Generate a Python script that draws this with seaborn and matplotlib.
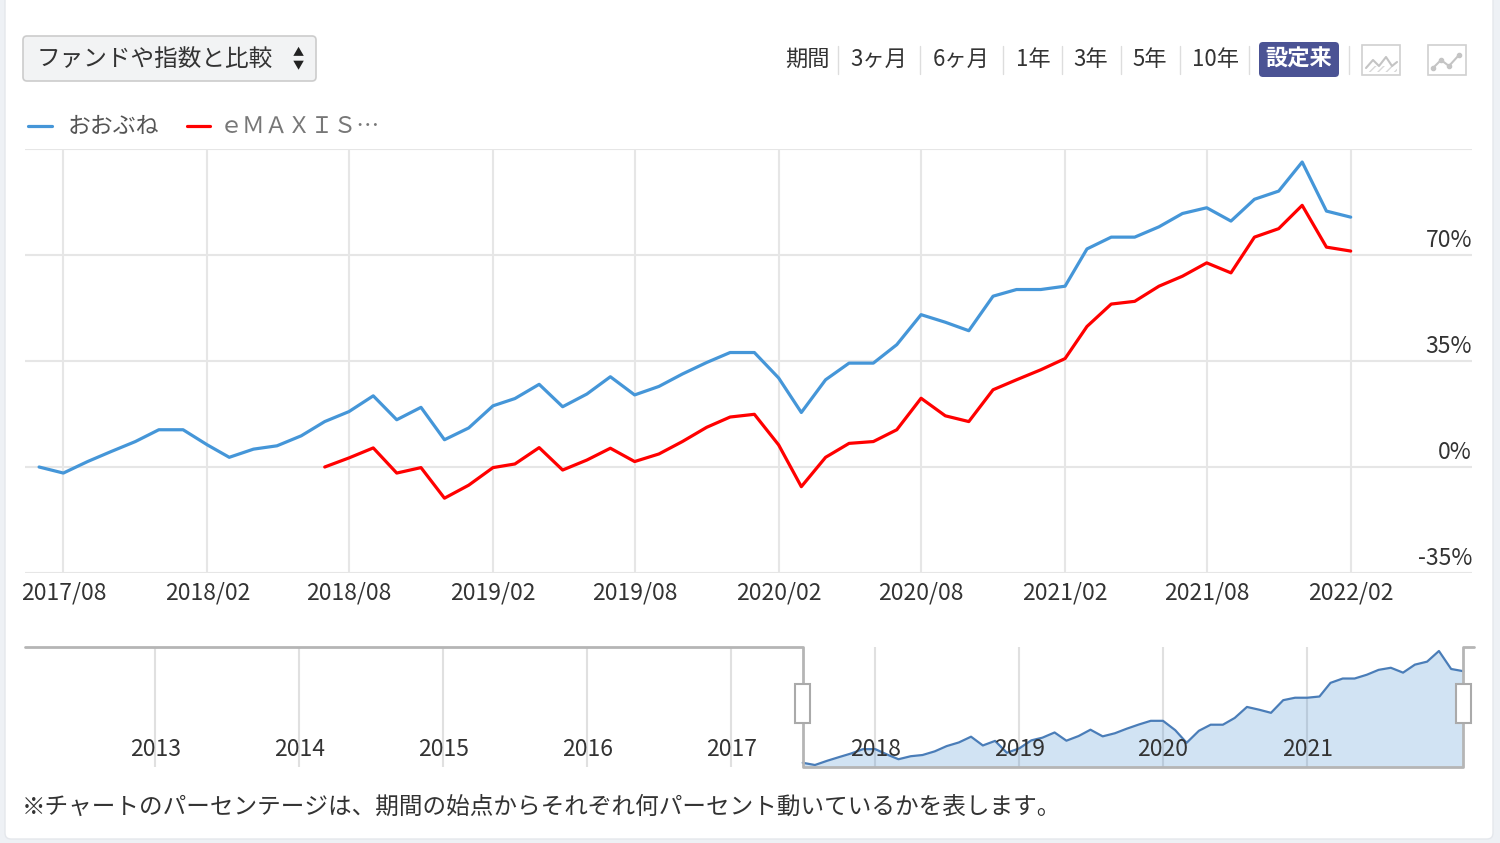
import numpy as np
import pandas as pd
import seaborn as sns
import matplotlib.pyplot as plt
import matplotlib.dates as mdates
from matplotlib import transforms
from matplotlib.patches import FancyBboxPatch, Rectangle
from matplotlib.lines import Line2D

# --- data ---
months_blue = pd.date_range('2017-07-01', '2022-02-01', freq='MS')
oobune = [0.0, -2.0, 1.8, 5.1, 8.4, 12.3,
          12.3, 7.3, 3.2, 5.9, 7.0, 10.3, 15.0, 18.3, 23.5, 15.6, 19.7, 9.0,
          12.9, 20.2, 22.6, 27.3, 19.9, 24.1, 29.8, 23.8, 26.6, 30.7, 34.5, 37.8,
          37.8, 29.4, 18.0, 28.8, 34.3, 34.3, 40.4, 50.3, 47.8, 45.0, 56.4, 58.6,
          58.6, 59.7, 72.0, 75.9, 75.9, 79.3, 83.7, 85.6, 81.2, 88.4, 91.1, 100.7,
          84.5, 82.5]

months_red = pd.date_range('2018-07-01', '2022-02-01', freq='MS')
emaxis = [0.0, 3.0, 6.3, -2.0, -0.2, -10.3,
          -6.0, -0.2, 1.0, 6.4, -1.0, 2.3, 6.2, 1.8, 4.3, 8.4, 13.1, 16.5,
          17.4, 7.3, -6.5, 3.2, 7.8, 8.4, 12.3, 22.7, 16.9, 15.0, 25.5, 28.8,
          32.1, 35.8, 46.4, 53.8, 54.7, 59.7, 63.0, 67.4, 64.1, 75.9, 78.7, 86.4,
          72.6, 71.3]

series_names = ['おおぶね', 'ｅＭＡＸＩＳ…']
series_colors = ['#4596d8', '#ff0000']

y_ticks = [-35, 0, 35, 70]
x_ticks = pd.date_range('2017-08-01', '2022-02-01', freq='6MS')
nav_years = [2013, 2014, 2015, 2016, 2017, 2018, 2019, 2020, 2021]

periods = ['期間', '3ヶ月', '6ヶ月', '1年', '3年', '5年', '10年', '設定来']
footnote = '※チャートのパーセンテージは、期間の始点からそれぞれ何パーセント動いているかを表します。'

sns.set_theme(style='white')
plt.rcParams['font.family'] = ['Noto Sans CJK JP', 'DejaVu Sans']

W, H = 1500, 843
fig = plt.figure(figsize=(15, 8.43), dpi=100, facecolor='#eef1f5')
inch = fig.dpi_scale_trans


def P(x, y):
    # pixel position (from top-left) -> inches
    return (x / 100, (H - y) / 100)


def box(x0, y0, x1, y1, **kw):
    p = FancyBboxPatch(P(x0, y1), (x1 - x0) / 100, (y1 - y0) / 100,
                       transform=inch, **kw)
    fig.add_artist(p)


# white card (behind everything)
box(5, -20, 1493, 839, boxstyle='round,pad=0,rounding_size=0.06',
    fc='white', ec='#e4e7ec', lw=1, zorder=-10)

# --- main chart ---
ax = fig.add_axes([25 / W, 1 - 573 / H, 1447 / W, 424 / H])
ax.patch.set_alpha(0)
df_main = pd.concat([
    pd.DataFrame({'date': months_blue, 'value': oobune, 'series': series_names[0]}),
    pd.DataFrame({'date': months_red, 'value': emaxis, 'series': series_names[1]}),
])
sns.lineplot(data=df_main, x='date', y='value', hue='series',
             palette=dict(zip(series_names, series_colors)),
             linewidth=2.3, legend=False, ax=ax)

ax.set_xlim(pd.Timestamp('2017-06-13'), pd.Timestamp('2022-07-06'))
ax.set_ylim(-35, 105)
ax.set_yticks(y_ticks + [105])
ax.set_yticklabels([])
ax.tick_params(axis='y', length=0)
ax.set_xticks(x_ticks)
ax.set_xticklabels([d.strftime('%Y/%m') for d in x_ticks], fontsize=16.5, color='#333333')
ax.tick_params(axis='x', length=6, width=1.5, color='#e0e0e0', pad=0)
ax.grid(True, color='#e6e6e6', lw=1.5)
for s in ax.spines.values():
    s.set_visible(False)
ax.set_xlabel('')
ax.set_ylabel('')

off = transforms.offset_copy(ax.get_yaxis_transform(), fig=fig, x=0, y=2.5, units='points')
for v in y_ticks:
    ax.text(1.0, v, f'{v}%', transform=off, ha='right', va='bottom',
            fontsize=16.5, color='#333333')

# --- navigator ---
ax2 = fig.add_axes([25 / W, 1 - 767 / H, 1449 / W, 120 / H])
ax2.patch.set_alpha(0)
ax2.fill_between(months_blue, oobune, -3.8, color='#4a90d0', alpha=0.25, lw=0)
sns.lineplot(x=months_blue, y=oobune, color='#4a7db8', linewidth=1.6, ax=ax2)
nav_left, nav_right = pd.Timestamp('2012-02-05'), pd.Timestamp('2022-02-28')
ax2.set_xlim(nav_left, nav_right)
ax2.set_ylim(-3.8, 104.3)
ax2.set_xticks([pd.Timestamp(f'{y}-01-01') for y in nav_years])
ax2.set_xticklabels([])
ax2.set_yticks([])
ax2.set_xlabel('')
ax2.set_ylabel('')
ax2.tick_params(length=0)
ax2.grid(True, axis='x', color='#e0e0e0', lw=1.5)
ax2.set_axisbelow(True)
for s in ax2.spines.values():
    s.set_visible(False)
t2 = ax2.get_xaxis_transform()
for y in nav_years:
    ax2.text(pd.Timestamp(f'{y}-01-01'), 0.15, str(y),
             transform=t2, ha='center', va='center', fontsize=16.5, color='#333333', zorder=4)

xl, xr = mdates.date2num(nav_left), mdates.date2num(nav_right)
s0, s1 = mdates.date2num(months_blue[0]), mdates.date2num(months_blue[-1])
ax2.plot([xl, s0, s0, s1, s1, xr], [1, 1, 0, 0, 1, 1], transform=t2,
         color='#b5b5b5', lw=2, clip_on=False, zorder=5)
hw = 38
for s in (s0, s1):
    ax2.add_patch(Rectangle((s - hw / 2, 0.37), hw, 0.32, transform=t2, fc='white',
                            ec='#aaaaaa', lw=1.5, clip_on=False, zorder=6))

# --- top controls ---
box(23, 36, 316, 81, boxstyle='round,pad=0,rounding_size=0.04', fc='#f2f3f4', ec='#cccccc', lw=1.2)
fig.text(*P(37, 59), 'ファンドや指数と比較', transform=inch, ha='left', va='center',
         fontsize=17, color='#333333')
fig.text(*P(298, 53), '▲', transform=inch, ha='center', va='center', fontsize=8, color='#222222')
fig.text(*P(298, 66), '▼', transform=inch, ha='center', va='center', fontsize=8, color='#222222')

period_x = [807, 879, 961, 1033, 1091, 1150, 1216, 1299]
sep_x = [838, 920, 1003, 1062, 1121, 1180, 1249, 1349]
box(1259, 42, 1339, 77, boxstyle='round,pad=0,rounding_size=0.04', fc='#4b5394', ec='none')
for lab, x in zip(periods, period_x):
    hl = lab == '設定来'
    fig.text(*P(x, 59), lab, transform=inch, ha='center', va='center', fontsize=16,
             color='white' if hl else '#333333', fontweight='bold' if hl else 'normal')
for x in sep_x:
    fig.add_artist(Line2D([x / 100, x / 100], [(H - 46) / 100, (H - 74) / 100],
                          transform=inch, color='#dddddd', lw=1))

# chart type icons
for x0 in (1362, 1428):
    box(x0, 45, x0 + 38, 75, boxstyle='square,pad=0', fc='white', ec='#d0d0d0', lw=1.2)
zig1 = [(1366, 68), (1373, 60), (1379, 66), (1386, 57), (1392, 66), (1397, 62)]
zig2 = [(1433, 68), (1441, 60), (1449, 66), (1459, 55)]
for zig in (zig1, zig2):
    xs = [p[0] / 100 for p in zig]
    ys = [(H - p[1]) / 100 for p in zig]
    fig.add_artist(Line2D(xs, ys, transform=inch, color='#c4c4c4', lw=1.5))
fig.add_artist(Line2D([p[0] / 100 for p in zig2], [(H - p[1]) / 100 for p in zig2],
                      transform=inch, color='#c4c4c4', lw=0, marker='o', markersize=3))
box(1366, 66, 1397, 72, boxstyle='square,pad=0', fc='none', ec='#d8d8d8', lw=0, hatch='////')

# legend
leg_x = [(28, 52, 68), (187, 210, 220)]
leg_text_colors = ['#555555', '#777777']
for (a, b, tx), name, col, tc in zip(leg_x, series_names, series_colors, leg_text_colors):
    fig.add_artist(Line2D([a / 100, b / 100], [(H - 126) / 100] * 2, transform=inch,
                          color=col, lw=2.3))
    fig.text(*P(tx, 126), name, transform=inch, ha='left', va='center',
             fontsize=16.5, color=tc)

fig.text(*P(22, 807), footnote, transform=inch, ha='left', va='center',
         fontsize=17, color='#333333')

fig.savefig('out.png', dpi=100, facecolor=fig.get_facecolor())
